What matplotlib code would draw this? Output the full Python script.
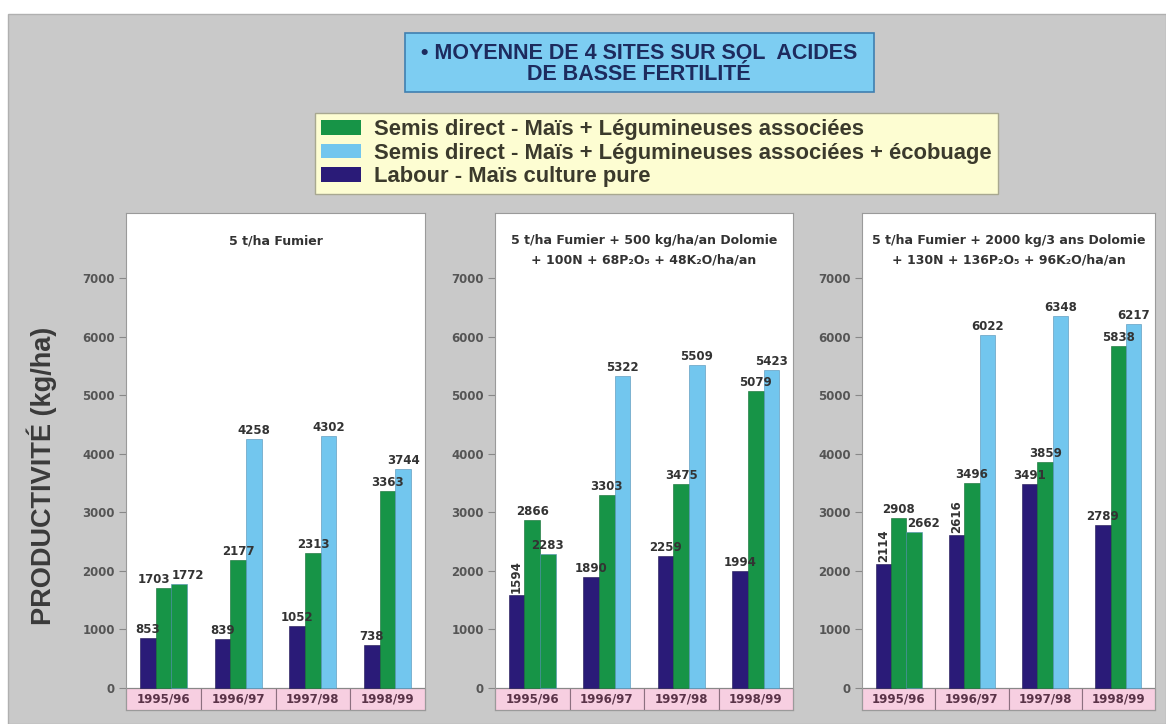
import matplotlib
matplotlib.use('Agg')
import matplotlib.pyplot as plt
from matplotlib.patches import Rectangle, Patch
import numpy as np

plt.rcParams['font.family'] = ['Liberation Sans', 'DejaVu Sans']

# donnees (kg/ha)
seasons = ['1995/96', '1996/97', '1997/98', '1998/99']
panel_titles = [
    '5 t/ha Fumier',
    '5 t/ha Fumier + 500 kg/ha/an Dolomie\n+ 100N + 68P\u2082O\u2085 + 48K\u2082O/ha/an',
    '5 t/ha Fumier + 2000 kg/3 ans Dolomie\n+ 130N + 136P\u2082O\u2085 + 96K\u2082O/ha/an',
]
labour = [[853, 839, 1052, 738],
          [1594, 1890, 2259, 1994],
          [2114, 2616, 3491, 2789]]
semis = [[1703, 2177, 2313, 3363],
         [2866, 3303, 3475, 5079],
         [2908, 3496, 3859, 5838]]
ecobuage = [[1772, 4258, 4302, 3744],
            [2283, 5322, 5509, 5423],
            [2662, 6022, 6348, 6217]]
legend_labels = ['Semis direct - Maïs + Légumineuses associées',
                 'Semis direct - Maïs + Légumineuses associées + écobuage',
                 'Labour - Maïs culture pure']
title = '\u2022 MOYENNE DE 4 SITES SUR SOL  ACIDES\nDE BASSE FERTILITÉ'
ylabel = 'PRODUCTIVITÉ (kg/ha)'

NAVY = '#2a1b78'
GREEN = '#179447'
BLUE = '#72c6ee'
BG = '#c9c9c9'
DJ = ['DejaVu Sans']

W, H = 1166, 724
fig = plt.figure(figsize=(W / 100, H / 100), dpi=100)
fig.patch.set_facecolor('white')
fig.add_artist(Rectangle((8 / W, 0), 1 - 8 / W, 1 - 14 / H, transform=fig.transFigure,
                         facecolor=BG, edgecolor='#b0b0b0', lw=1, zorder=0))

# titre
fig.add_artist(Rectangle((405 / W, 1 - 92 / H), 469 / W, 59 / H, transform=fig.transFigure,
                         facecolor='#7dcdf2', edgecolor='#3f7fb0', lw=1.2, zorder=1))
fig.text(639 / W, 1 - 64 / H, title, ha='center', va='center', fontsize=15.5,
         fontweight='bold', color='#1d2b5e', linespacing=1.0, zorder=2)

# legende
handles = [Patch(facecolor=GREEN), Patch(facecolor=BLUE), Patch(facecolor=NAVY)]
leg = fig.legend(handles, legend_labels, loc='upper left',
                 bbox_to_anchor=(315 / W, 1 - 113 / H),
                 prop={'weight': 'bold', 'size': 15.8}, frameon=True, fancybox=False,
                 handlelength=1.8, handleheight=0.65, handletextpad=0.6,
                 labelspacing=0.12, borderpad=0.28, borderaxespad=0)
leg.get_frame().set_facecolor('#fdfdd2')
leg.get_frame().set_edgecolor('#a8a890')
leg.get_frame().set_alpha(1)
for t in leg.get_texts():
    t.set_color('#3b3a2c')

# panneaux
lefts = [126, 495, 862]
widths = [299, 298, 293]
vertical = {(1, 0), (2, 0), (2, 1)}  # (panneau, saison) etiquettes verticales labour
nudge = {(0, 1, 0): -9, (0, 2, 0): 9, (2, 2, 0): 9}  # decalage en pixels
x = np.arange(len(seasons))
bw = 0.21

for p in range(3):
    ax = fig.add_axes([lefts[p] / W, 1 - 710 / H, widths[p] / W, 497 / H])
    ax.set_facecolor('white')
    ax.set_xlim(-0.5, 3.5)
    ax.set_ylim(-376, 8110)
    eco_colors = [GREEN] + [BLUE] * 3
    b1 = ax.bar(x - bw, labour[p], bw, color=NAVY, edgecolor='#1c1250', lw=0.4, zorder=3)
    b2 = ax.bar(x, semis[p], bw, color=GREEN, edgecolor='#0f6a30', lw=0.4, zorder=3)
    b3 = ax.bar(x + bw, ecobuage[p], bw, color=eco_colors, edgecolor='#4f8fb5', lw=0.4, zorder=3)

    for s, bars in enumerate([b1, b2, b3]):
        for i, r in enumerate(bars):
            v = r.get_height()
            cx = r.get_x() + r.get_width() / 2
            rot = 90 if (s == 0 and (p, i) in vertical) else 0
            ax.annotate(str(int(v)), (cx, v), xytext=(nudge.get((p, s, i), 0), 2),
                        textcoords='offset pixels', rotation=rot, ha='center', va='bottom',
                        fontsize=8.5, fontweight='bold', color='#333333', family=DJ, zorder=4)

    # bande des saisons
    for i, s in enumerate(seasons):
        ax.add_patch(Rectangle((i - 0.5, -376), 1, 376, facecolor='#f7cfe1',
                               edgecolor='#8c7080', lw=0.8, zorder=2, clip_on=False))
        ax.text(i, -188, s, ha='center', va='center', fontsize=8.5, fontweight='bold',
                color='#5a3348', family=DJ, zorder=3)
    ax.axhline(0, color='#888888', lw=0.8, zorder=2)

    ax.set_yticks(range(0, 8000, 1000))
    ax.tick_params(axis='y', length=5, width=0.8, color='#888888', pad=3,
                   labelsize=8.5, labelcolor='#555555')
    for t in ax.get_yticklabels():
        t.set_fontweight('bold')
        t.set_family(DJ)
    ax.set_xticks([])
    for sp in ax.spines.values():
        sp.set_color('#9a9a9a')
        sp.set_linewidth(0.8)

    ax.text(0.5, 0.957, panel_titles[p], transform=ax.transAxes, ha='center', va='top',
            fontsize=9, fontweight='bold', color='#333333', linespacing=1.6, family=DJ)

fig.text(42 / W, 1 - 476 / H, ylabel, rotation=90, ha='center', va='center',
         fontsize=19.5, color='#3a3a3a', fontweight='bold')

fig.savefig('out.png', dpi=100, facecolor=fig.get_facecolor())
